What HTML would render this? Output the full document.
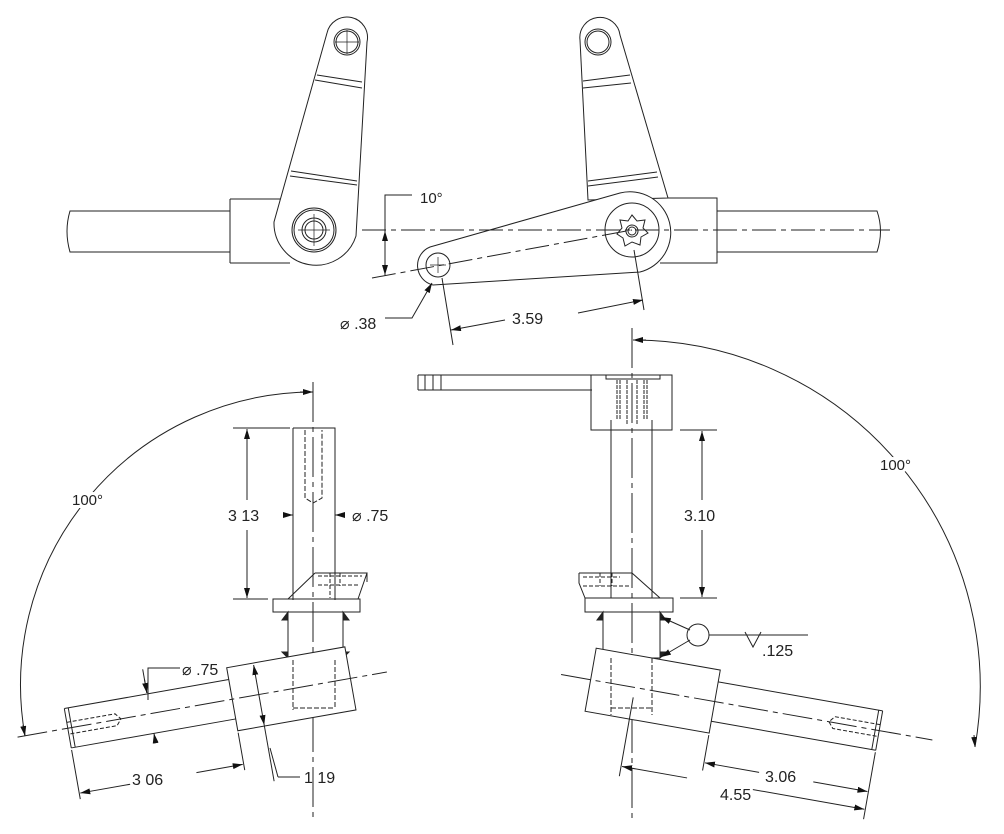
<!DOCTYPE html>
<html><head><style>html,body{margin:0;padding:0;background:#fff}svg{display:block}text{font-family:"Liberation Sans",sans-serif;fill:#222}</style></head>
<body>
<svg width="1004" height="834" viewBox="0 0 1004 834" xmlns="http://www.w3.org/2000/svg">
<defs>
<marker id="a" viewBox="0 0 10 6" refX="10" refY="3" markerWidth="10" markerHeight="6" orient="auto-start-reverse" markerUnits="userSpaceOnUse"><path d="M0,0 L10,3 L0,6 z" fill="#111"/></marker>
</defs>
<g fill="none" stroke="#222" stroke-width="1">
<!-- ===== TOP LEFT VIEW ===== -->
<path d="M70,211 L230,211 L230,252 L70,252 Q64,231 70,211 Z"/>
<path d="M230,199 L287,199 M230,263 L290,263 M230,199 L230,263"/>
<path d="M327,33 A20,20 0 0 1 367,42 L356,236 A42,42 0 0 1 274,222 Z" fill="#fff"/>
<circle cx="347" cy="42" r="13"/><circle cx="347" cy="42" r="11"/>
<path d="M335,42 H359 M347,30 V54" stroke-width="0.7"/>
<path d="M317,75 L362,82 M315,80 L362,88 M291,171 L357,181 M290,176 L357,185"/>
<circle cx="314" cy="230" r="22"/><circle cx="314" cy="230" r="20"/><circle cx="314" cy="230" r="12"/><circle cx="314" cy="230" r="9"/>
<path d="M298,230 H330 M314,214 V246" stroke-width="0.7"/>
<!-- ===== TOP RIGHT VIEW ===== -->
<path d="M717,211 L877,211 Q884,231 877,252 L717,252"/>
<path d="M660,198 L717,198 L717,263 L660,263"/>
<path d="M580,40 A20,20 0 0 1 620,35 L668,198 L588,200 Z" fill="#fff"/>
<circle cx="598" cy="42" r="13"/><circle cx="598" cy="42" r="11"/>
<path d="M583,81 L630,75 M583,88 L631,83 M588,181 L657,172 M588,186 L658,177"/>
<path d="M430,247 L620,193 A40,40 0 0 1 640,272 L433,285 A20,20 0 0 1 430,247 Z" fill="#fff"/>
<circle cx="632" cy="230" r="27"/>
<path d="M632,215 L637,221 L645,220 L643,228 L648,233 L641,237 L640,245 L632,242 L625,246 L623,238 L617,234 L622,228 L620,220 L628,221 Z"/>
<circle cx="632" cy="231" r="6"/><circle cx="632" cy="231" r="4"/>
<circle cx="438" cy="265" r="12"/>
<path d="M430,265 H446 M438,257 V273" stroke-width="0.7"/>
<path d="M362,230 L890,230" stroke-dasharray="24 5 5 5"/>
<path d="M372,278 L632,230" stroke-dasharray="24 5 5 5"/>
<!-- 10 deg -->
<path d="M412,195 L385,195 L385,276"/>
<path d="M385,238 L385,231" marker-end="url(#a)"/><path d="M385,268 L385,275" marker-end="url(#a)"/>
<!-- dia .38 -->
<path d="M385,318 L412,318 L432,283" marker-end="url(#a)"/>
<!-- 3.59 -->
<path d="M442,278 L453,345 M634,250 L644,310"/>
<path d="M505,320 L451,330" marker-end="url(#a)"/><path d="M578,313 L643,300" marker-end="url(#a)"/>
<!-- ===== BOTTOM LEFT VIEW ===== -->
<path d="M313,382 V818" stroke-dasharray="40 5 5 5"/>
<path d="M293,428 H335 V600 M293,428 V600"/>
<path d="M305,430 V498 L313,503 L322,498 V430" stroke-dasharray="5 2"/>
<path d="M233,428 H290 M233,599 H268"/>
<path d="M247,500 V429" marker-end="url(#a)"/><path d="M247,530 V598" marker-end="url(#a)"/>
<path d="M285,515 L293,515" marker-end="url(#a)"/><path d="M345,515 L335,515" marker-end="url(#a)"/>
<path d="M273,599 H360 V612 H273 Z"/>
<path d="M315,573 H367 L358,599 M367,573 L367,582 M315,573 L288,599" />
<path d="M318,576 H362 M318,585 H360 M330,573 V598 M340,573 V586" stroke-dasharray="4 2"/>
<path d="M288,612 H343 V658 H288 Z"/>
<path d="M288,612 L282,620 L288,620 Z M343,612 L349,620 L343,620 Z M288,658 L282,652 L288,652 Z M343,658 L349,652 L343,652 Z" fill="#222"/>
<g transform="translate(313,685) rotate(-10)">
<path d="M-249,-20 H-82 M-249,20 H-82 M-249,-20 V20 M-245,-20 V20"/>
<path d="M-82,-32 H38 V32 H-82 Z" fill="#fff"/>
<path d="M-249,-6 H-200 L-195,0 L-200,6 H-249" stroke-dasharray="4 2"/>
<path d="M-300,0 H75" stroke-dasharray="30 5 5 5"/>
<path d="M-249,22 V72 M-82,34 V72"/>
<path d="M-190,66 L-248,66" marker-end="url(#a)"/><path d="M-130,66 L-83,66" marker-end="url(#a)"/>
<path d="M-55,-30 V31" marker-start="url(#a)" marker-end="url(#a)"/>
<path d="M-55,31 V88"/>
<path d="M-165,-45 V-21"/><path d="M-165,30 V20" marker-end="url(#a)"/><path d="M-165,-35 V-21" marker-end="url(#a)"/>
</g>
<path d="M293,660 V710 M335,660 V708 M293,708 H335" stroke-dasharray="5 2"/>
<path d="M278,777 L300,777 M270,748 L278,777"/>
<path d="M148,700 V668 H180"/>
<path d="M25,736 A293,293 0 0 1 313,392" />
<path d="M300,392 L313,392" marker-end="url(#a)"/><path d="M23,725 L25,736" marker-end="url(#a)"/>
<!-- ===== BOTTOM RIGHT VIEW ===== -->
<path d="M632,328 V818" stroke-dasharray="40 5 5 5"/>
<path d="M418,375 H606 M418,390 H592 M418,375 V390 M425,375 V390 M433,375 V390 M441,375 V390"/>
<path d="M591,375 H672 V430 H591 Z M591,375 V390"/>
<path d="M606,375 V379 H660 V375"/>
<path d="M617,380 V420 M620,380 V420 M627,380 V425 M637,380 V425 M644,380 V420 M647,380 V420" stroke-dasharray="4 1"/>
<path d="M611,430 V598 M652,430 V598 M611,420 V430 M652,420 V430"/>
<path d="M680,430 H717 M680,598 H717"/>
<path d="M702,500 V431" marker-end="url(#a)"/><path d="M702,530 V597" marker-end="url(#a)"/>
<path d="M585,598 H673 V612 H585 Z"/>
<path d="M579,573 H632 L660,598 M579,573 V583 L585,598"/>
<path d="M583,577 H620 M583,586 H630 M600,573 V586 M612,573 V586" stroke-dasharray="4 2"/>
<path d="M603,612 H660 V658 H603 Z"/>
<path d="M603,612 L597,620 L603,620 Z M660,612 L666,620 L660,620 Z M603,658 L597,652 L603,652 Z M660,658 L666,652 L660,652 Z" fill="#222"/>
<circle cx="698" cy="635" r="11" fill="#fff"/>
<path d="M690,630 L661,617" marker-end="url(#a)"/><path d="M690,640 L661,657" marker-end="url(#a)"/>
<path d="M709,635 H808 M745,632 L753,647 L761,632"/>
<g transform="translate(632,687) rotate(10)">
<path d="M84,-20 H251 M84,20 H251 M251,-20 V20 M247,-20 V20"/>
<path d="M-42,-32 H84 V32 H-42 Z" fill="#fff"/>
<path d="M251,-6 H205 L200,0 L205,6 H251" stroke-dasharray="4 2"/>
<path d="M-72,0 H305" stroke-dasharray="30 5 5 5"/>
<path d="M84,34 V70 M251,22 V90 M3,10 V90"/>
<path d="M140,62 L85,62" marker-end="url(#a)"/><path d="M195,62 L250,62" marker-end="url(#a)"/>
<path d="M70,80 L4,80" marker-end="url(#a)"/><path d="M130,80 L250,80" marker-end="url(#a)"/>
</g>
<path d="M611,658 V715 M652,658 V715 M611,708 H652" stroke-dasharray="5 2"/>
<path d="M633,340 A347,347 0 0 1 975,747"/>
<path d="M646,340 L633,340" marker-end="url(#a)"/><path d="M974,735 L975,747" marker-end="url(#a)"/>
</g>
<text x="420" y="203" font-size="15">10°</text>
<text x="340" y="329" font-size="16">⌀ .38</text>
<text x="512" y="324" font-size="16">3.59</text>
<text x="228" y="521" font-size="16" style="paint-order:stroke" stroke="#fff" stroke-width="6">3 13</text>
<text x="352" y="521" font-size="16">⌀ .75</text>
<text x="72" y="505" font-size="15" style="paint-order:stroke" stroke="#fff" stroke-width="6">100°</text>
<text x="182" y="675" font-size="16">⌀ .75</text>
<text x="132" y="785" font-size="16" style="paint-order:stroke" stroke="#fff" stroke-width="6">3 06</text>
<text x="304" y="783" font-size="16">1 19</text>
<text x="684" y="521" font-size="16" style="paint-order:stroke" stroke="#fff" stroke-width="6">3.10</text>
<text x="762" y="656" font-size="16">.125</text>
<text x="880" y="470" font-size="15" style="paint-order:stroke" stroke="#fff" stroke-width="6">100°</text>
<text x="765" y="782" font-size="16" style="paint-order:stroke" stroke="#fff" stroke-width="6">3.06</text>
<text x="720" y="800" font-size="16" style="paint-order:stroke" stroke="#fff" stroke-width="6">4.55</text>
</svg>
</body></html>
